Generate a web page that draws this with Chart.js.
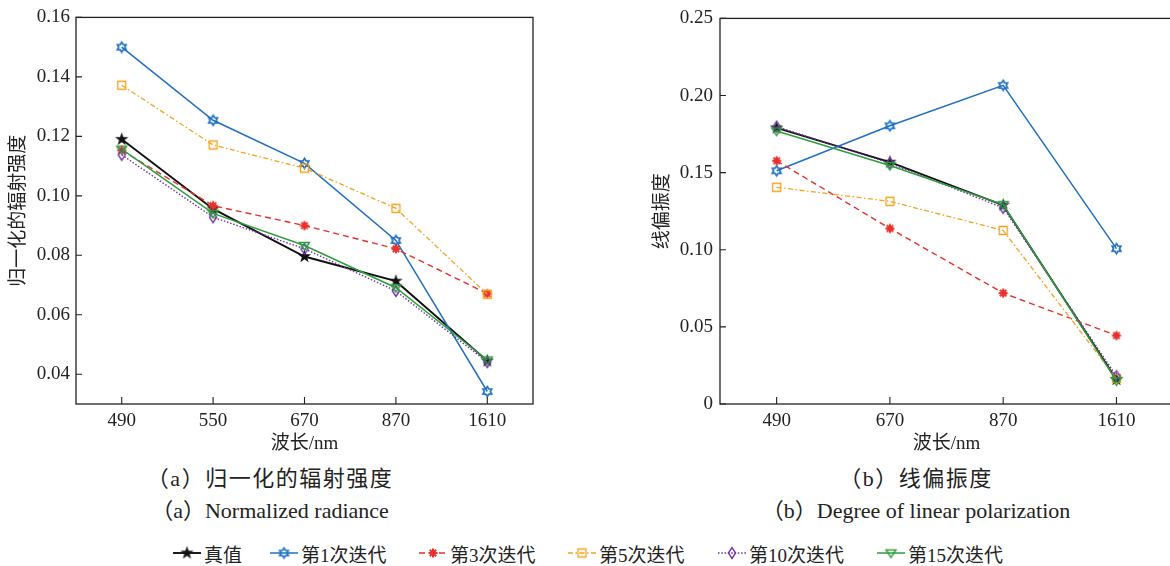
<!DOCTYPE html>
<html><head><meta charset="utf-8">
<script src="https://cdn.jsdelivr.net/npm/chart.js@4"></script>
<style>
body{margin:0;width:1170px;height:566px;overflow:hidden;background:#fff;position:relative;font-family:'Liberation Serif','Noto Sans CJK SC',serif;color:#222}
#w1{position:absolute;left:0;top:0;width:560px;height:460px}
#w2{position:absolute;left:600px;top:0;width:580px;height:460px}
.cap{position:absolute;transform:translate(-50%,-50%);white-space:nowrap;font-size:22px;line-height:1}
.leg{position:absolute;top:543px;height:20px;display:flex;align-items:center;font-size:19px;white-space:nowrap}
.leg canvas{margin-right:3px}
</style></head><body>
<div id="w1"><canvas id="c1"></canvas></div>
<div id="w2"><canvas id="c2"></canvas></div>
<div class="cap" style="left:270px;top:479px;letter-spacing:1.5px">（a）归一化的辐射强度</div>
<div class="cap" style="left:270px;top:511px">（a）Normalized radiance</div>
<div class="cap" style="left:916px;top:479px;letter-spacing:1.5px">（b）线偏振度</div>
<div class="cap" style="left:916px;top:511px">（b）Degree of linear polarization</div>
<div id="legend"></div>
<script>
// ---- data ----
const CATS_A = ['490','550','670','870','1610'];
const CATS_B = ['490','670','870','1610'];
const SERIES_NAMES = ['真值','第1次迭代','第3次迭代','第5次迭代','第10次迭代','第15次迭代'];
const RAD_TRUE = [0.119, 0.0956, 0.0796, 0.0713, 0.0445];
const RAD_IT1  = [0.150, 0.1254, 0.1109, 0.0850, 0.0342];
const RAD_IT3  = [0.1153, 0.0967, 0.0900, 0.0822, 0.0671];
const RAD_IT5  = [0.1372, 0.1171, 0.1093, 0.0958, 0.0669];
const RAD_IT10 = [0.1138, 0.0928, 0.0822, 0.0680, 0.0441];
const RAD_IT15 = [0.1157, 0.0941, 0.0833, 0.0691, 0.0448];
const DOLP_TRUE = [0.1790, 0.1568, 0.1289, 0.0159];
const DOLP_IT1  = [0.1512, 0.1804, 0.2066, 0.1007];
const DOLP_IT3  = [0.1577, 0.1138, 0.0719, 0.0444];
const DOLP_IT5  = [0.1405, 0.1314, 0.1125, 0.0165];
const DOLP_IT10 = [0.1798, 0.1561, 0.1272, 0.0180];
const DOLP_IT15 = [0.1770, 0.1546, 0.1293, 0.0150];
const Y_TICKS_A = [0.04, 0.06, 0.08, 0.10, 0.12, 0.14, 0.16];
const Y_TICKS_B = [0, 0.05, 0.10, 0.15, 0.20, 0.25];

// ---- styles ----
const STYLES = [
  {color:'#111111', dash:[], width:1.9, marker:'pentagram', r:7},
  {color:'#1f6fc4', dash:[], width:1.5, marker:'hexagram', r:5},
  {color:'#e8302c', dash:[6,4], width:1.4, marker:'asterisk', r:4.5},
  {color:'#f7a21b', dash:[5,2.5,1.5,2.5], width:1.3, marker:'square', r:4},
  {color:'#7232a8', dash:[1.5,1.8], width:1.4, marker:'diamond', r:4.5},
  {color:'#2e9e3c', dash:[], width:1.5, marker:'trianglev', r:5}
];

function makeMarker(kind, color, r){
  const s = Math.ceil(r*2+5);
  const c = document.createElement('canvas'); c.width = s; c.height = s;
  const g = c.getContext('2d'); g.translate(s/2, s/2);
  g.strokeStyle = color; g.fillStyle = color; g.lineWidth = 1.4; g.lineJoin='miter';
  g.beginPath();
  if(kind==='pentagram'){
    for(let i=0;i<10;i++){const rr=i%2?r*0.4:r;const a=-Math.PI/2+i*Math.PI/5;g.lineTo(rr*Math.cos(a),rr*Math.sin(a));}
    g.closePath(); g.fill();
  } else if(kind==='hexagram'){
    for(let i=0;i<12;i++){const rr=i%2?r*0.6:r;const a=-Math.PI/2+i*Math.PI/6;g.lineTo(rr*Math.cos(a),rr*Math.sin(a));}
    g.closePath(); g.lineWidth=1.7; g.stroke();
  } else if(kind==='asterisk'){
    g.lineWidth=2;
    for(let i=0;i<4;i++){const a=i*Math.PI/4;g.moveTo(-r*Math.cos(a),-r*Math.sin(a));g.lineTo(r*Math.cos(a),r*Math.sin(a));}
    g.stroke();
  } else if(kind==='square'){
    g.rect(-r,-r,2*r,2*r); g.lineWidth=1.3; g.stroke();
  } else if(kind==='diamond'){
    g.moveTo(0,-r*1.2); g.lineTo(r*0.8,0); g.lineTo(0,r*1.2); g.lineTo(-r*0.8,0); g.closePath(); g.lineWidth=1.4; g.stroke();
  } else if(kind==='trianglev'){
    g.moveTo(-r,-r*0.6); g.lineTo(r,-r*0.6); g.lineTo(0,r*0.9); g.closePath(); g.lineWidth=1.4; g.stroke();
  }
  return c;
}
const MARKERS = STYLES.map(s=>makeMarker(s.marker, s.color, s.r));

function datasets(arrs){
  return arrs.map((d,i)=>({
    label: SERIES_NAMES[i], data: d,
    borderColor: STYLES[i].color, backgroundColor: STYLES[i].color,
    borderWidth: STYLES[i].width, borderDash: STYLES[i].dash,
    pointStyle: MARKERS[i], pointRadius: 5, pointHoverRadius: 5,
    tension: 0, fill: false, clip: false,
    order: arrs.length - 1 - i
  }));
}

const FONT = {family:"'Liberation Serif','Noto Sans CJK SC',serif", size:19};

const frame = {
  id:'frame',
  afterDraw(chart){
    const {ctx, chartArea:a, scales} = chart;
    ctx.save();
    ctx.strokeStyle = '#222'; ctx.lineWidth = 1.3;
    ctx.strokeRect(a.left, a.top, a.right-a.left, a.bottom-a.top);
    ctx.lineWidth = 1.1;
    ctx.beginPath();
    const x = scales.x, y = scales.y;
    x.ticks.forEach((t,i)=>{const p=x.getPixelForTick(i); ctx.moveTo(p,a.bottom); ctx.lineTo(p,a.bottom-7);});
    y.ticks.forEach((t,i)=>{const p=y.getPixelForTick(i); ctx.moveTo(a.left,p); ctx.lineTo(a.left+6,p);});
    ctx.stroke();
    ctx.restore();
  }
};

function makeChart(id, cats, arrs, yMin, yMax, yTicks, fmt, opts){
  return new Chart(document.getElementById(id), {
    type:'line',
    data:{labels:cats, datasets:datasets(arrs)},
    options:{
      responsive:true, maintainAspectRatio:false, animation:false,
      layout:{padding:{left:0, right:opts.padRight, top:opts.padTop, bottom:0}},
      plugins:{legend:{display:false}, tooltip:{enabled:false}},
      scales:{
        x:{
          type:'category', offset:true,
          grid:{display:false, drawTicks:false},
          border:{display:false},
          ticks:{font:FONT, color:'#222', padding:6, maxRotation:0},
          title:{display:true, text:'波长/nm', font:FONT, color:'#222', padding:{top:0,bottom:5}},
          afterFit(s){ s.height = opts.xH; }
        },
        y:{
          min:yMin, max:yMax,
          grid:{display:false, drawTicks:false},
          border:{display:false},
          afterBuildTicks(s){ s.ticks = yTicks.map(v=>({value:v})); },
          ticks:{font:FONT, color:'#222', padding:opts.yPad, callback:fmt},
          title:{display:true, text:opts.yTitle, font:FONT, color:'#222', padding:{top:opts.yTitlePad,bottom:0}},
          afterFit(s){ s.width = opts.yW; }
        }
      }
    },
    plugins:[frame]
  });
}

makeChart('c1', CATS_A, [RAD_TRUE,RAD_IT1,RAD_IT3,RAD_IT5,RAD_IT10,RAD_IT15], 0.03, 0.16, Y_TICKS_A,
  v=>v.toFixed(2),
  {padRight:27, padTop:17, xH:56, yW:76, yPad:6, yTitle:'归一化的辐射强度', yTitlePad:8});
makeChart('c2', CATS_B, [DOLP_TRUE,DOLP_IT1,DOLP_IT3,DOLP_IT5,DOLP_IT10,DOLP_IT15], 0, 0.25, Y_TICKS_B,
  v=>v===0?'0':v.toFixed(2),
  {padRight:3, padTop:16, xH:56, yW:120, yPad:7, yTitle:'线偏振度', yTitlePad:52});

// ---- legend ----
const LEG_LEFT = [173, 270, 419, 568, 718, 877];
const legend = document.getElementById('legend');
SERIES_NAMES.forEach((name,i)=>{
  const d = document.createElement('div'); d.className='leg'; d.style.left = LEG_LEFT[i]+'px';
  const c = document.createElement('canvas'); c.width=28; c.height=16;
  const g = c.getContext('2d');
  g.strokeStyle = STYLES[i].color; g.lineWidth = STYLES[i].width; g.setLineDash(STYLES[i].dash);
  g.beginPath(); g.moveTo(0,8); g.lineTo(28,8); g.stroke();
  const m = MARKERS[i]; g.drawImage(m, 14-m.width/2, 8-m.height/2);
  d.appendChild(c);
  const t = document.createElement('span'); t.textContent = name; d.appendChild(t);
  legend.appendChild(d);
});
</script>
</body></html>
